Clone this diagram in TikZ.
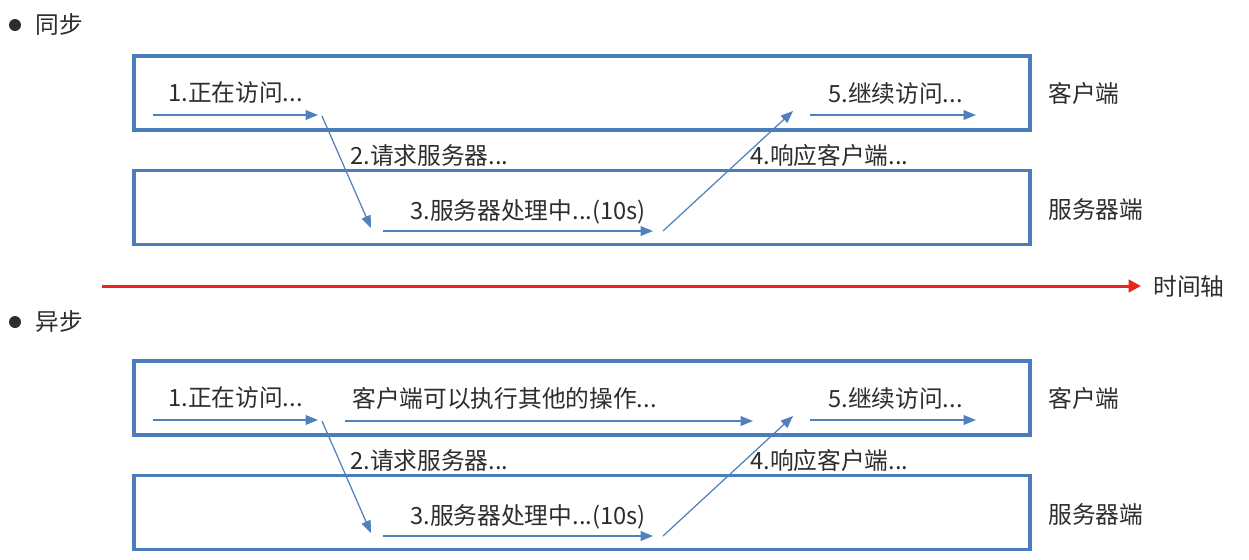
\documentclass[tikz,border=0pt]{standalone}
\usepackage{fontspec}
\setmainfont{Noto Sans CJK SC}
\usetikzlibrary{arrows.meta}

\definecolor{laneblue}{RGB}{74,126,187}
\definecolor{flowblue}{RGB}{80,128,190}
\definecolor{axisred}{RGB}{232,38,26}
\definecolor{inkgray}{RGB}{45,45,45}

\tikzset{
    lane/.style={draw=laneblue, line width=2.1pt, minimum width=17.92cm, minimum height=1.48cm},
    flow/.style={draw=flowblue, line width=0.7pt, -{Triangle[length=7pt,width=5.5pt]}},
    lbl/.style={font=\fontsize{13.5}{16}\selectfont, text=inkgray, inner sep=0pt, anchor=west},
}

\begin{document}
\begin{tikzpicture}[x=0.02cm,y=-0.02cm]
    \useasboundingbox (0,0) rectangle (1249,559);

    % heading bullets
    \fill[inkgray] (15,25) circle (0.12cm);
    \node[lbl] (sync) at (35,25) {同步};
    \fill[inkgray] (15,322) circle (0.12cm);
    \node[lbl] (async) at (35,322) {异步};

    % both time lines
    \foreach \sec/\dy in {s/0,a/305} {
    \begin{scope}[yshift=-\dy*0.02cm]
        \node[lane] (\sec-client) at (582,93) {};
        \node[lane] (\sec-server) at (582,207.5) {};
        \node[lbl] at (1048,93) {客户端};
        \node[lbl] at (1048,209) {服务器端};

        \coordinate (\sec-p1) at (153,115);
        \coordinate (\sec-p2) at (318,115);
        \coordinate (\sec-p3) at (322,116);
        \coordinate (\sec-p4) at (371,228);
        \coordinate (\sec-p5) at (383,231);
        \coordinate (\sec-p6) at (653,231);
        \coordinate (\sec-p7) at (663,231);
        \coordinate (\sec-p8) at (793,111);
        \coordinate (\sec-p9) at (810,115);
        \coordinate (\sec-p10) at (976,115);

        \draw[flow] (\sec-p1) -- (\sec-p2);
        \draw[flow] (\sec-p3) -- (\sec-p4);
        \draw[flow] (\sec-p5) -- (\sec-p6);
        \draw[flow] (\sec-p7) -- (\sec-p8);
        \draw[flow] (\sec-p9) -- (\sec-p10);

        \node[lbl] (\sec-visit) at (168,93) {1.正在访问...};
        \node[lbl] (\sec-request) at (350,155) {2.请求服务器...};
        \node[lbl] (\sec-process) at (410,212) {3.服务器处理中...(10s)};
        \node[lbl] (\sec-reply) at (750,155) {4.响应客户端...};
        \node[lbl] (\sec-resume) at (828,93) {5.继续访问...};
    \end{scope}
    }

    % async only: client keeps working
    \coordinate (a-busy1) at (345,421);
    \coordinate (a-busy2) at (753,421);
    \draw[flow] (a-busy1) -- (a-busy2);
    \node[lbl] (a-busy) at (352,398) {客户端可以执行其他的操作...};

    % time axis
    \coordinate (axis1) at (102,286);
    \coordinate (axis2) at (1141,286);
    \node[lbl] (axis) at (1153,286) {时间轴};
    \draw[axisred, line width=1.7pt, -{Triangle[length=7pt,width=7pt]}] (axis1) -- (axis2);
\end{tikzpicture}
\end{document}
